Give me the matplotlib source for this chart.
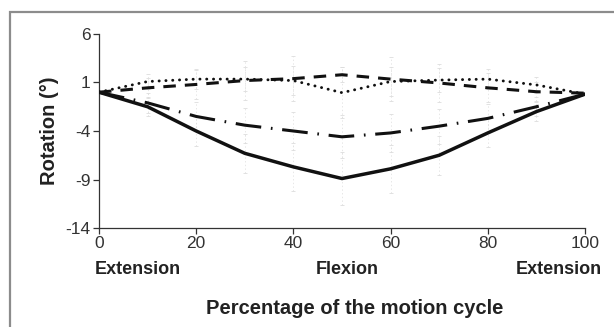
import matplotlib
matplotlib.use("Agg")
import matplotlib.pyplot as plt
from matplotlib.patches import Rectangle

plt.rcParams['font.family'] = ['Liberation Sans', 'DejaVu Sans']
plt.rcParams['lines.scale_dashes'] = False
plt.rcParams['axes.unicode_minus'] = False

# percentage of the motion cycle
cycle = [0, 10, 20, 30, 40, 50, 60, 70, 80, 90, 100]

# rotation (deg), four curves
solid_rot = [0.0, -1.5, -4.0, -6.3, -7.7, -8.9, -7.9, -6.5, -4.2, -2.0, -0.2]
dashdot_rot = [0.0, -1.1, -2.5, -3.4, -4.0, -4.6, -4.2, -3.5, -2.7, -1.5, -0.2]
dashed_rot = [0.0, 0.45, 0.8, 1.2, 1.4, 1.8, 1.35, 0.95, 0.45, 0.05, -0.1]
dotted_rot = [0.0, 1.1, 1.35, 1.35, 1.2, -0.05, 1.1, 1.25, 1.35, 0.75, -0.2]

# faint error bars (rough estimates)
solid_err = [0, 1.0, 1.5, 2.0, 2.5, 2.7, 2.5, 2.0, 1.5, 1.0, 0]
dashdot_err = [0, 1.0, 1.5, 1.8, 2.0, 2.2, 2.0, 1.8, 1.5, 1.0, 0]
dashed_err = [0, 1.0, 1.5, 2.0, 2.3, 0.8, 2.3, 2.0, 1.5, 1.0, 0]
dotted_err = [0, 0.8, 1.0, 1.2, 1.5, 2.6, 1.5, 1.2, 1.0, 0.8, 0]

y_ticks = [-14, -9, -4, 1, 6]
x_ticks = [0, 20, 40, 60, 80, 100]
phase_labels = ["Extension", "Flexion", "Extension"]

fig = plt.figure(figsize=(6.14, 3.27), dpi=100)
ax = fig.add_axes([99 / 614, 1 - 228 / 327, 486 / 614, 194 / 327])

# gray frame around the figure (only top and left edges show)
fig.patches.append(Rectangle((10 / 614, -0.1), 1.2, 1 - 12 / 327 + 0.1,
                             transform=fig.transFigure, fill=False,
                             edgecolor='#8c8c8c', linewidth=1.6))

err_kw = dict(fmt='none', ecolor='#dddddd', elinewidth=0.5, capsize=1.5,
              capthick=0.6, zorder=1)
for vals, errs in [(solid_rot, solid_err), (dashdot_rot, dashdot_err),
                   (dashed_rot, dashed_err), (dotted_rot, dotted_err)]:
    eb = ax.errorbar(cycle[1:-1], vals[1:-1], yerr=errs[1:-1], **err_kw)
    for c in eb[2]:
        c.set_linestyle(':')

ax.plot(cycle, solid_rot, color='#111111', linewidth=2.5,
        solid_capstyle='round', solid_joinstyle='round', zorder=3)
ax.plot(cycle, dashdot_rot, color='#111111', linewidth=2.2,
        linestyle=(0, (18.5, 7, 1.2, 7)), zorder=3)
ax.plot(cycle, dashed_rot, color='#111111', linewidth=2.2,
        linestyle=(0, (9, 6.5)), zorder=3)
ax.plot(cycle, dotted_rot, color='#111111', linewidth=2.1,
        linestyle=(0, (0.1, 4.8)), dash_capstyle='round', zorder=3)

ax.set_xlim(0, 100)
ax.set_ylim(-14, 6)
ax.set_xticks(x_ticks)
ax.set_yticks(y_ticks)
ax.tick_params(axis='both', labelsize=12.5, colors='#333333', length=4,
               width=0.9, direction='out', pad=2)
for s in ['top', 'right']:
    ax.spines[s].set_visible(False)
for s in ['left', 'bottom']:
    ax.spines[s].set_color('#333333')
    ax.spines[s].set_linewidth(0.9)

ax.set_ylabel("Rotation (°)", fontsize=14.5, fontweight='bold', color='#222222',
              labelpad=5)

# phase labels under the x axis
fig.text(138 / 614, 1 - 270 / 327, phase_labels[0], ha='center', va='center',
         fontsize=13, fontweight='bold', color='#222222')
fig.text(347 / 614, 1 - 270 / 327, phase_labels[1], ha='center', va='center',
         fontsize=13, fontweight='bold', color='#222222')
fig.text(602 / 614, 1 - 270 / 327, phase_labels[2], ha='right', va='center',
         fontsize=13, fontweight='bold', color='#222222')

fig.text(355 / 614, 1 - 308 / 327, "Percentage of the motion cycle",
         ha='center', va='center', fontsize=14.5, fontweight='bold',
         color='#222222')

fig.savefig("out.png", dpi=100)
